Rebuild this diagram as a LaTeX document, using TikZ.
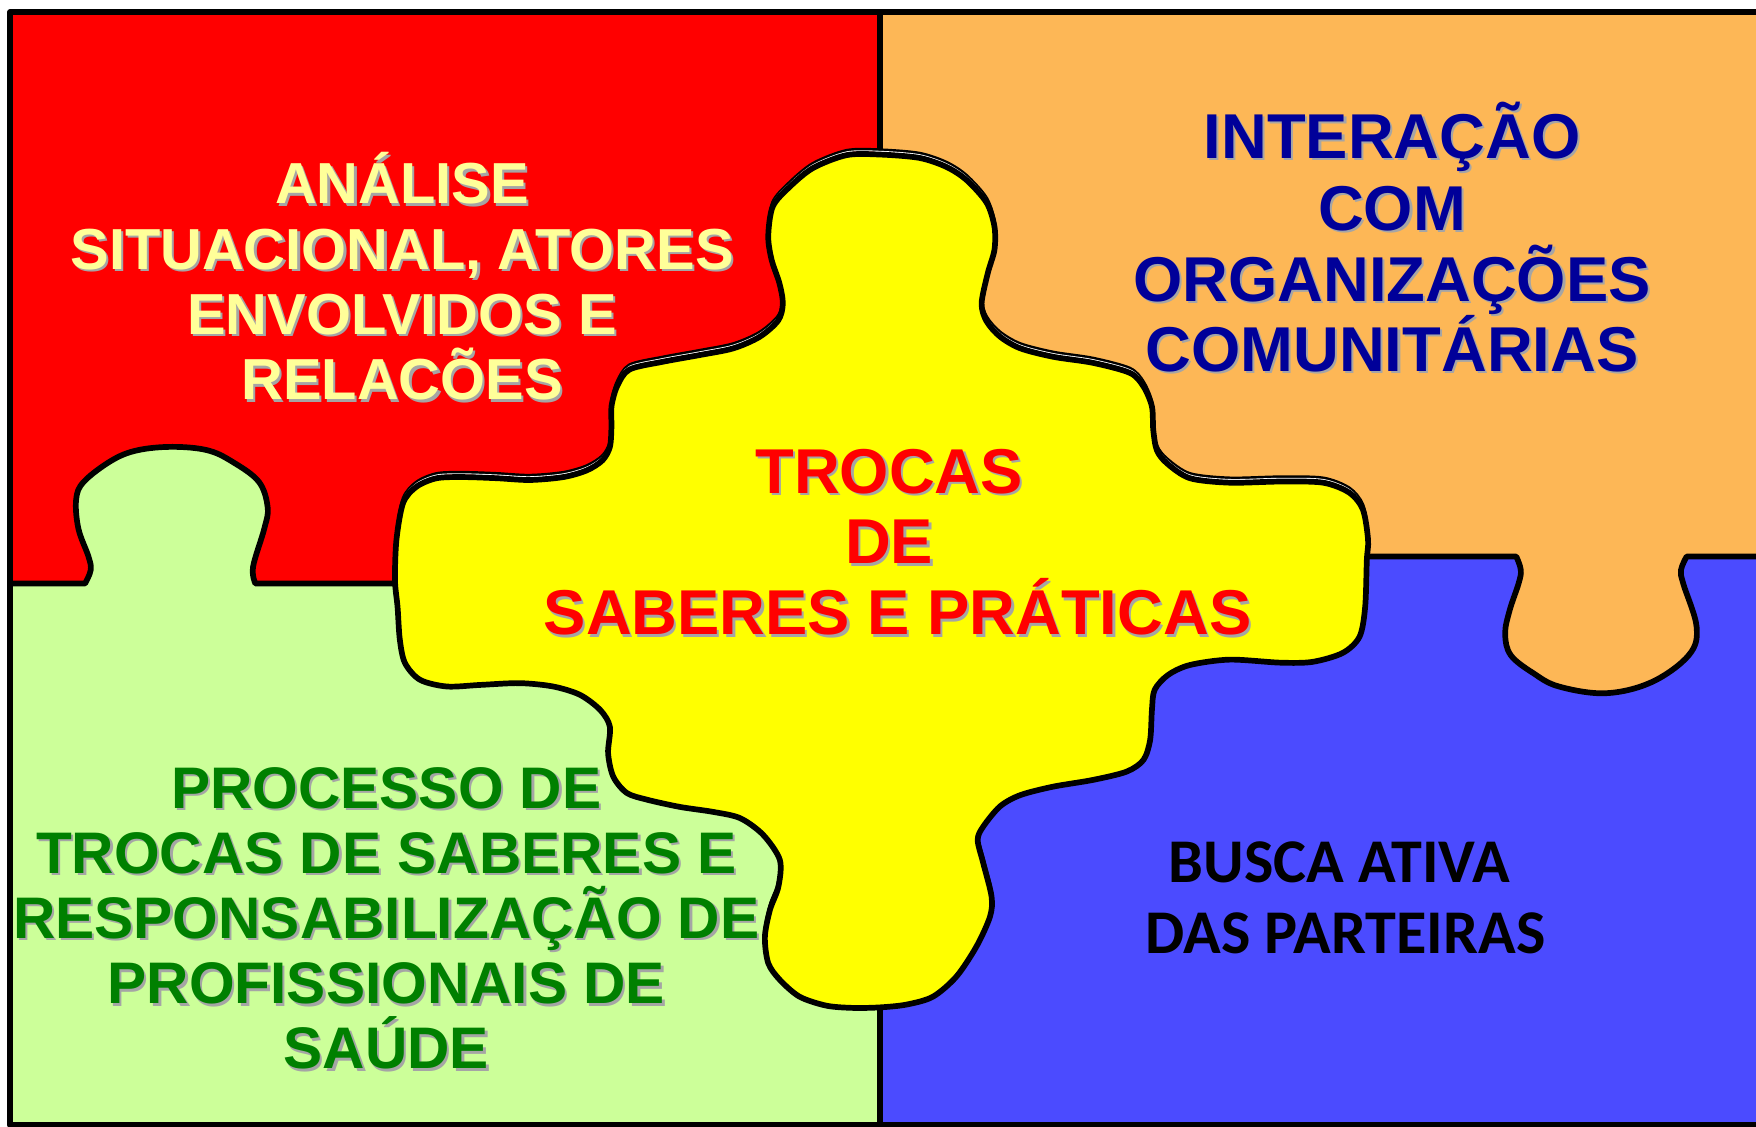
\documentclass[tikz,border=0pt]{standalone}
\usepackage{fontspec}
\setmainfont{Liberation Sans}
\newfontfamily\calibrifont{Carlito}
\definecolor{pzred}{HTML}{FF0000}
\definecolor{pzorange}{HTML}{FDB756}
\definecolor{pzgreen}{HTML}{CCFF99}
\definecolor{pzblue}{HTML}{4B4BFF}
\definecolor{pzyellow}{HTML}{FFFF00}
\definecolor{txtyellow}{HTML}{FFFF99}
\definecolor{txtnavy}{HTML}{000099}
\definecolor{txtgreen}{HTML}{008000}
\definecolor{shadowgray}{HTML}{A5A5A5}
\newcommand\yellowshape{plot[smooth cycle, tension=0.5] coordinates {
(786,138) (821,141) (845,149) (863,160.7) (881,181) (888,202.4) (888,223) (882,244) (876.5,271) (881,287) (893,300.6) (911,311) (940.5,318.6) (976,324) (1009,333) (1021,345) (1028.6,363) (1029.8,384) (1033,402) (1042,413.7) (1062.5,427) (1098,431) (1143,430) (1181.5,431) (1205,440) (1217,455) (1221.6,482) (1220.5,500) (1219,542) (1214,568.5) (1199,583) (1172,591) (1143,591.7) (1098,589) (1062.5,593.8) (1043,602.7) (1031,616) (1028.6,634) (1027,660.7) (1021,678.6) (1006,689) (976,696.4) (940,702.5) (911,710) (893,720) (878,738) (873,750) (878,770.8) (885.4,800.6) (884,818.5) (872,845) (854,872) (833,890) (809.5,897) (786,899.5) (762,900) (738,898) (714,890) (696.4,875) (686,860) (683,836.6) (687.5,812.5) (695,792) (696.4,768) (681.5,745.5) (661,730.6) (637,725) (607,720.5) (577.5,714) (559.6,708) (547.6,693.5) (543,672.6) (544.6,649) (536,634) (518,620.5) (494,613) (464,610) (428.6,611.6) (399,613) (375,607) (361.6,592) (357,571) (355,542) (352.7,518) (354,482) (360,449) (372,434.5) (390,427) (413.7,426) (443.5,427) (473,428.6) (503,426) (524,420) (538,411) (544.6,399) (546,381) (546,363) (551,345) (562,330) (592,323) (625,317) (655,311) (678.6,300.6) (695,286) (699,271) (696,253) (689,232) (686,211) (690,184.5) (705,167) (726,150) (756,138.5)}}
\newcommand\stline[5]{%
  \node[#4, text=shadowgray, shift={(2,2)}] (#1s) at (#2,#3) {#5};
  \node[#4] (#1) at (#2,#3) {#5};}
\begin{document}
\begin{tikzpicture}[x=0.1mm, y=-0.1mm, line join=round, line cap=round,
  outline/.style={draw=black, line width=1.45pt},
  txt/.style={anchor=base, inner sep=0pt, outer sep=0pt},
  redtxt/.style={txt, text=txtyellow, font=\fontsize{14.7}{17}\selectfont\bfseries},
  orangetxt/.style={txt, text=txtnavy, font=\fontsize{16.1}{18}\selectfont\bfseries},
  centertxt/.style={txt, text=pzred, font=\fontsize{16.1}{18}\selectfont\bfseries},
  greentxt/.style={txt, text=txtgreen, font=\fontsize{14.9}{17}\selectfont\bfseries},
  bluetxt/.style={txt, text=black, font=\fontsize{15.8}{18}\selectfont\calibrifont\bfseries}]
\useasboundingbox (0,0) rectangle (1568,1006);
% quadrants
\fill[pzred] (9,11) rectangle (786,521);
\fill[pzorange] (786,11) rectangle (1580,497);
\fill[pzgreen] (9,521) rectangle (786,1005);
\fill[pzblue] (786,497) rectangle (1580,1005);
% green tab into red piece
\draw[outline, fill=pzgreen] (9,521) -- plot[smooth, tension=0.6] coordinates {(76,521) (81,509) (79,497) (70,472) (68,446) (75,430) (100,411) (123,402) (154,399) (185,402) (207,412) (231,430) (239,453) (236,472) (226,506) (228,521)} -- (359,521);
% orange tab into blue piece
\draw[outline, fill=pzorange] (1221,497) -- plot[smooth, tension=0.6] coordinates {(1354,497) (1358,509) (1356,521) (1348,545) (1344,566) (1349,585) (1369,601) (1392,613) (1434,619) (1475,609) (1508,585) (1515,560) (1503,521) (1501,509) (1506,497)} -- (1580,497);
% vertical dividers
\draw[outline] (786,11) -- (786,150);
\draw[outline] (786,890) -- (786,1005);
% central piece with doubled upper outline
\draw[black, line width=0.75pt, shift={(0,-4.2)}] \yellowshape;
\draw[white, line width=0.3pt, shift={(0,-2.8)}] \yellowshape;
\draw[outline, fill=pzyellow] \yellowshape;
% outer frame
\draw[black, line width=1.6pt] (9,11) rectangle (1590,1004.5);
% texts
\stline{r1}{359}{182}{redtxt}{ANÁLISE}
\stline{r2}{359}{240.5}{redtxt}{SITUACIONAL, ATORES}
\stline{r3}{359}{298.5}{redtxt}{ENVOLVIDOS E}
\stline{r4}{359}{357}{redtxt}{RELACÕES}
\stline{o1}{1243}{141.4}{orangetxt}{INTERAÇÃO}
\stline{o2}{1243}{205.4}{orangetxt}{COM}
\stline{o3}{1243}{269.3}{orangetxt}{ORGANIZAÇÕES}
\stline{o4}{1243}{331.8}{orangetxt}{COMUNITÁRIAS}
\stline{c1}{794}{440.5}{centertxt}{TROCAS}
\stline{c2}{794}{503.6}{centertxt}{DE}
\stline{c3}{801.5}{567}{centertxt}{SABERES E PRÁTICAS}
\stline{g1}{345}{721.7}{greentxt}{PROCESSO DE}
\stline{g2}{345}{779.8}{greentxt}{TROCAS DE SABERES E}
\stline{g3}{345}{837.7}{greentxt}{RESPONSABILIZAÇÃO DE}
\stline{g4}{345}{896.4}{greentxt}{PROFISSIONAIS DE}
\stline{g5}{345}{954.5}{greentxt}{SAÚDE}
\node[bluetxt] (b1) at (1196,788) {BUSCA ATIVA};
\node[bluetxt] (b2) at (1201.5,851.8) {DAS PARTEIRAS};
\end{tikzpicture}
\end{document}
